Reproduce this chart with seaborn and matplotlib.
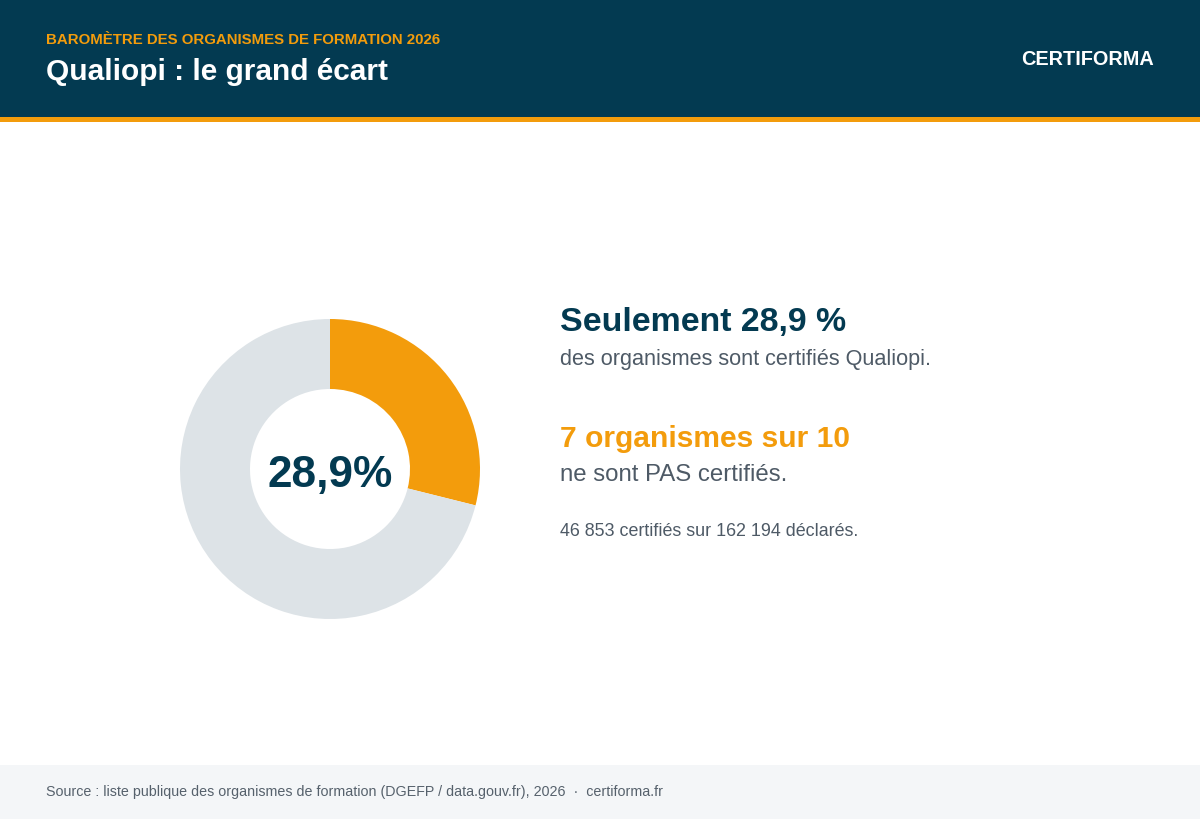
import matplotlib
matplotlib.use("Agg")
import matplotlib.pyplot as plt
import seaborn as sns
from matplotlib.patches import Rectangle

# data
categories = ["Certifiés Qualiopi", "Non certifiés"]
shares = [28.9, 71.1]
n_certified = 46853
n_declared = 162194

kicker = "BAROMÈTRE DES ORGANISMES DE FORMATION 2026"
title = "Qualiopi : le grand écart"
brand = "CERTIFORMA"
source = "Source : liste publique des organismes de formation (DGEFP / data.gouv.fr), 2026  ·  certiforma.fr"

navy = "#033a51"
orange = "#f39c0c"
ring_grey = "#dde3e7"
text_grey = "#4e5a66"

sns.set_theme(style="white")
plt.rcParams['font.family'] = ['Liberation Sans', 'DejaVu Sans']
palette = sns.color_palette([orange, ring_grey])

fig = plt.figure(figsize=(12, 8.2), dpi=100)

# background canvas in pixel coords
bg = fig.add_axes([0, 0, 1, 1])
bg.set_xlim(0, 1200)
bg.set_ylim(820, 0)
bg.axis('off')
bg.add_patch(Rectangle((0, 0), 1200, 118, color=navy, lw=0))
bg.add_patch(Rectangle((0, 118), 1200, 5, color=orange, lw=0))
bg.add_patch(Rectangle((0, 766), 1200, 54, color="#f4f6f8", lw=0))

bg.text(46, 44, kicker, color=orange, fontsize=10.8, fontweight='bold', va='baseline')
bg.text(46, 80, title, color='white', fontsize=21.5, fontweight='bold', va='baseline')
bg.text(1154, 65, brand, color='white', fontsize=14.3, fontweight='bold', va='baseline', ha='right')
bg.text(46, 796, source, color="#56616c", fontsize=10.3, va='baseline')

pct = shares[0]
pct_txt = f"{pct:.1f}".replace(".", ",")
bg.text(560, 331, f"Seulement {pct_txt} %", color=navy, fontsize=24.4, fontweight='bold', va='baseline')
bg.text(560, 365, "des organismes sont certifiés Qualiopi.", color=text_grey, fontsize=15.6, va='baseline')
bg.text(560, 447, f"{round(shares[1] / 10)} organismes sur 10", color=orange, fontsize=21.6, fontweight='bold', va='baseline')
bg.text(560, 481, "ne sont PAS certifiés.", color=text_grey, fontsize=17.3, va='baseline')
fmt = lambda n: f"{n:,}".replace(",", " ")
bg.text(560, 536, f"{fmt(n_certified)} certifiés sur {fmt(n_declared)} déclarés.",
        color=text_grey, fontsize=12.9, va='baseline')

# donut
ax = fig.add_axes([180 / 1200, 200 / 820, 300 / 1200, 300 / 820])
ax.pie(shares, colors=palette, startangle=90, counterclock=False, radius=1,
       wedgeprops=dict(width=70 / 150, linewidth=0))
ax.set_aspect('equal')
ax.set_xlim(-1, 1)
ax.set_ylim(-1, 1)
ax.text(0, -0.04, pct_txt + "%", color=navy, fontsize=31.8, fontweight='bold',
        ha='center', va='center')

fig.savefig("out.png", dpi=100)
